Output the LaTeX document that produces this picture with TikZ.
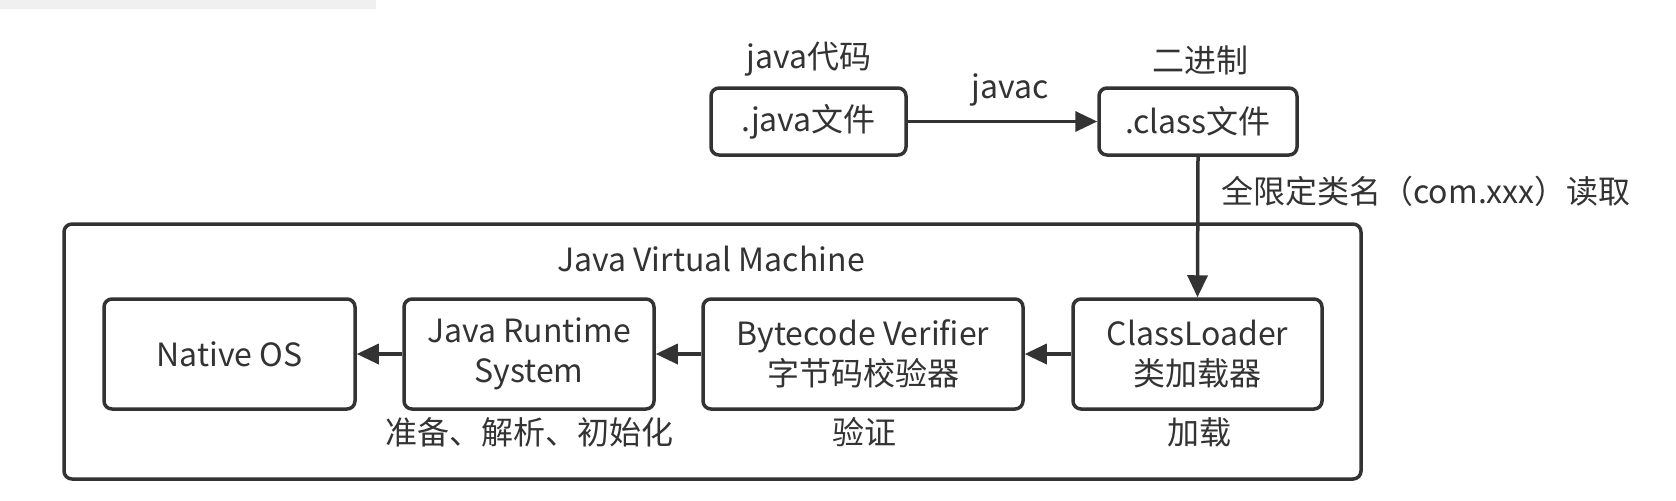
\documentclass[tikz,border=0pt]{standalone}
\usepackage{fontspec}
\setmainfont{Noto Sans CJK SC}
\usetikzlibrary{arrows.meta}
\definecolor{ink}{HTML}{333333}
\definecolor{band}{HTML}{F0F0F0}
\tikzset{
  box/.style={draw=ink, line width=1.75pt, rounded corners=4pt, inner sep=0pt, align=center, text=ink},
  lbl/.style={inner sep=0pt, text=ink},
  conn/.style={draw=ink, line width=1.75pt, -{Triangle[length=11pt,width=10pt]}},
}
\begin{document}
\begin{tikzpicture}[x=0.5pt,y=-0.5pt,font=\fontsize{16}{20}\selectfont]
\useasboundingbox (0,0) rectangle (1676,500);
\fill[band] (0,0) rectangle (376,9);
% top row
\node[box, minimum width=97.5pt, minimum height=33.5pt] (java) at (808.5,121.5) {.java文件};
\node[box, minimum width=99pt, minimum height=33.5pt] (class) at (1198,121.5) {.class文件};
\node[lbl] (javacode) at (809,59) {java代码};
\node[lbl] (binary) at (1200,60) {二进制};
\node[lbl] (javac) at (1010,90) {javac};
% JVM container
\node[box, minimum width=648.5pt, minimum height=127.5pt] (jvm) at (712.5,351.5) {};
\node[lbl] (jvmlbl) at (711,259) {Java Virtual Machine};
\node[box, minimum width=125.5pt, minimum height=55pt] (native) at (229.5,354) {Native OS};
\node[box, minimum width=125pt, minimum height=55pt] (jrs) at (529,354) {Java Runtime\\System};
\node[box, minimum width=160pt, minimum height=55pt] (bv) at (863,354) {Bytecode Verifier\\字节码校验器};
\node[box, minimum width=124.5pt, minimum height=55pt] (cl) at (1197.5,354) {ClassLoader\\类加载器};
\node[lbl] (l1) at (529,432) {准备、解析、初始化};
\node[lbl] (l2) at (864,432) {验证};
\node[lbl] (l3) at (1199,432) {加载};
\node[lbl, anchor=west] (read) at (1221,191) {全限定类名（com.xxx）读取};
% connectors
\draw[conn] (java) -- (class);
\draw[conn] (class.south) -- (cl.north);
\draw[conn] (cl) -- (bv);
\draw[conn] (bv) -- (jrs);
\draw[conn] (jrs) -- (native);
\end{tikzpicture}
\end{document}
